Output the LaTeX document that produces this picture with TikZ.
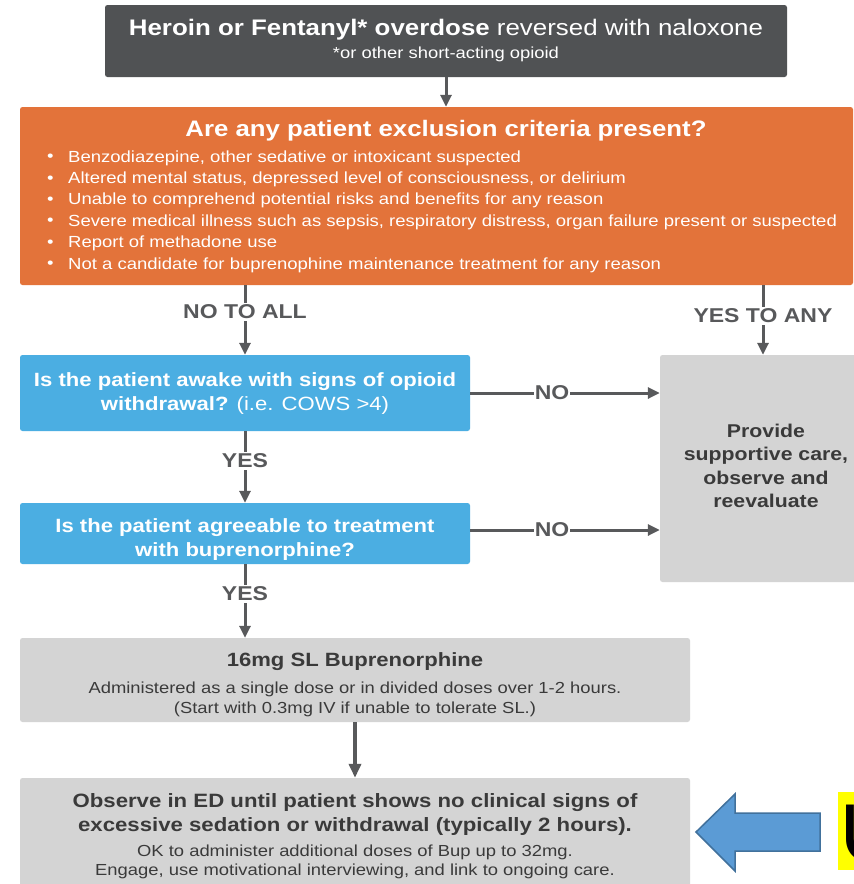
\documentclass[tikz,border=0pt]{standalone}
\usepackage{fontspec}
\setmainfont{Liberation Sans}[FakeStretch=1.15]
\newfontfamily\slidefont{Carlito}
\usetikzlibrary{arrows.meta}

\definecolor{darkbox}{HTML}{505254}
\definecolor{orangebox}{HTML}{E3733A}
\definecolor{bluebox}{HTML}{4BAEE2}
\definecolor{graybox}{HTML}{D4D4D4}
\definecolor{linkgray}{HTML}{58595B}
\definecolor{textgray}{HTML}{3A3A3A}
\definecolor{arrowblue}{HTML}{5B9BD5}
\definecolor{arrowedge}{HTML}{41719C}
\definecolor{marker}{HTML}{FFFF00}

\newcommand{\fs}[2]{\fontsize{#1}{#2}\selectfont}

\begin{document}
\begin{tikzpicture}[x=1pt,y=-1pt,
  box/.style={rectangle, rounded corners=2.5pt, inner sep=0pt},
  txt/.style={inner sep=0pt, align=center},
  lbl/.style={inner sep=2pt, text=linkgray, font=\fs{20}{22}\bfseries},
  link/.style={draw=linkgray, line width=3pt},
  linkarrow/.style={link, -{Triangle[length=12pt,width=11pt]}},
]
\useasboundingbox (0,0) rectangle (854,884);
\clip (0,0) rectangle (854,884);
\fill[white] (0,0) rectangle (854,884);

% ---- boxes ----
\node[box, fill=darkbox, minimum width=682pt, minimum height=72pt] (start) at (446,41) {};
\node[box, fill=orangebox, minimum width=833pt, minimum height=178pt] (excl) at (436.5,196) {};
\node[box, fill=bluebox, minimum width=450pt, minimum height=76pt] (awake) at (245,393) {};
\node[box, fill=bluebox, minimum width=450pt, minimum height=61pt] (agree) at (245,533.5) {};
\node[box, fill=graybox, minimum width=230pt, minimum height=227pt] (support) at (775,468.5) {};
\node[box, fill=graybox, minimum width=670pt, minimum height=84pt] (dose) at (355,680) {};
\node[box, fill=graybox, minimum width=670pt, minimum height=130pt] (observe) at (355,843) {};

% ---- texts ----
\node[txt, text=white, font=\fs{22.5}{24}] (starttitle) at (446,30)
  {\bfseries Heroin or Fentanyl* overdose\mdseries{} reversed with naloxone};
\node[txt, text=white, font=\fs{16}{18}] (startnote) at (446,54) {*or other short-acting opioid};

\node[txt, text=white, font=\fs{22.4}{24}\bfseries] (excltitle) at (446,131)
  {Are any patient exclusion criteria present?};
\foreach \i/\t in {0/{Benzodiazepine, other sedative or intoxicant suspected},
                   1/{Altered mental status, depressed level of consciousness, or delirium},
                   2/{Unable to comprehend potential risks and benefits for any reason},
                   3/{Severe medical illness such as sepsis, respiratory distress, organ failure present or suspected},
                   4/{Report of methadone use},
                   5/{Not a candidate for buprenophine maintenance treatment for any reason}} {
  \node[txt, text=white, font=\fs{16.1}{20}, anchor=west] (bul\i) at (47,158+21.4*\i) {•};
  \node[txt, text=white, font=\fs{16.1}{20}, anchor=west] (item\i) at (68,158+21.4*\i) {\t};
}

\node[txt, text=white, font=\fs{19.2}{24}\bfseries] (awaketext) at (245,394)
  {Is the patient awake with signs of opioid\\withdrawal? \mdseries(i.e. COWS >4)};
\node[txt, text=white, font=\fs{19.2}{24}\bfseries] (agreetext) at (245,540)
  {Is the patient agreeable to treatment\\with buprenorphine?};
\node[txt, text=textgray, font=\fs{18.5}{23.4}\bfseries] (supporttext) at (766,466)
  {Provide\\supportive care,\\observe and\\reevaluate};
\node[txt, text=textgray, font=\fs{19.2}{22}\bfseries] (dosetitle) at (355,662) {16mg SL Buprenorphine};
\node[txt, text=textgray, font=\fs{16}{20}] (dosenote) at (355,699)
  {Administered as a single dose or in divided doses over 1-2 hours.\\(Start with 0.3mg IV if unable to tolerate SL.)};
\node[txt, text=textgray, font=\fs{19.3}{24}\bfseries] (observetitle) at (355,814)
  {Observe in ED until patient shows no clinical signs of\\excessive sedation or withdrawal (typically 2 hours).};
\node[txt, text=textgray, font=\fs{16}{19}] (observenote) at (355,861.5)
  {OK to administer additional doses of Bup up to 32mg.\\Engage, use motivational interviewing, and link to ongoing care.};

% ---- branch labels ----
\node[lbl] (noall) at (245,312) {NO TO ALL};
\node[lbl] (yesany) at (763,316) {YES TO ANY};
\node[lbl, inner sep=1pt] (no1) at (552,393) {NO};
\node[lbl, inner sep=1pt] (no2) at (552,530) {NO};
\node[lbl] (yes1) at (245,461) {YES};
\node[lbl] (yes2) at (245,594) {YES};

% ---- connectors ----
\draw[linkarrow] (start.south -| starttitle.south) -- (excl.north -| starttitle.south);
\draw[link] (noall.north |- excl.south) -- (noall.north);
\draw[linkarrow] (noall.south) -- (noall.south |- awake.north);
\draw[link] (yesany.north |- excl.south) -- (yesany.north);
\draw[linkarrow] (yesany.south) -- (yesany.south |- support.north);
\draw[link] (awake.east |- no1.west) -- (no1.west);
\draw[linkarrow] (no1.east) -- (support.west |- no1.east);
\draw[link] (yes1.north |- awake.south) -- (yes1.north);
\draw[linkarrow] (yes1.south) -- (yes1.south |- agree.north);
\draw[link] (agree.east |- no2.west) -- (no2.west);
\draw[linkarrow] (no2.east) -- (support.west |- no2.east);
\draw[link] (yes2.north |- agree.south) -- (yes2.north);
\draw[linkarrow] (yes2.south) -- (yes2.south |- dose.north);
\draw[link, line width=4pt, -{Triangle[length=14pt,width=12pt]}] (dose.south) -- (dose.south |- observe.north);

% ---- block arrow and marker note ----
\draw[fill=arrowblue, draw=arrowedge, line width=1.5pt, line join=miter]
  (696,832) -- (735,794) -- (735,813) -- (820,813) -- (820,851) -- (735,851) -- (735,871) -- cycle;
\node[fill=marker, minimum width=30pt, minimum height=78pt, inner sep=0pt, anchor=north west] (note) at (838,792) {};
\node[anchor=west, inner sep=0pt, font=\slidefont\fs{88}{88}] (notetext) at (840,834) {U};
\end{tikzpicture}
\end{document}
